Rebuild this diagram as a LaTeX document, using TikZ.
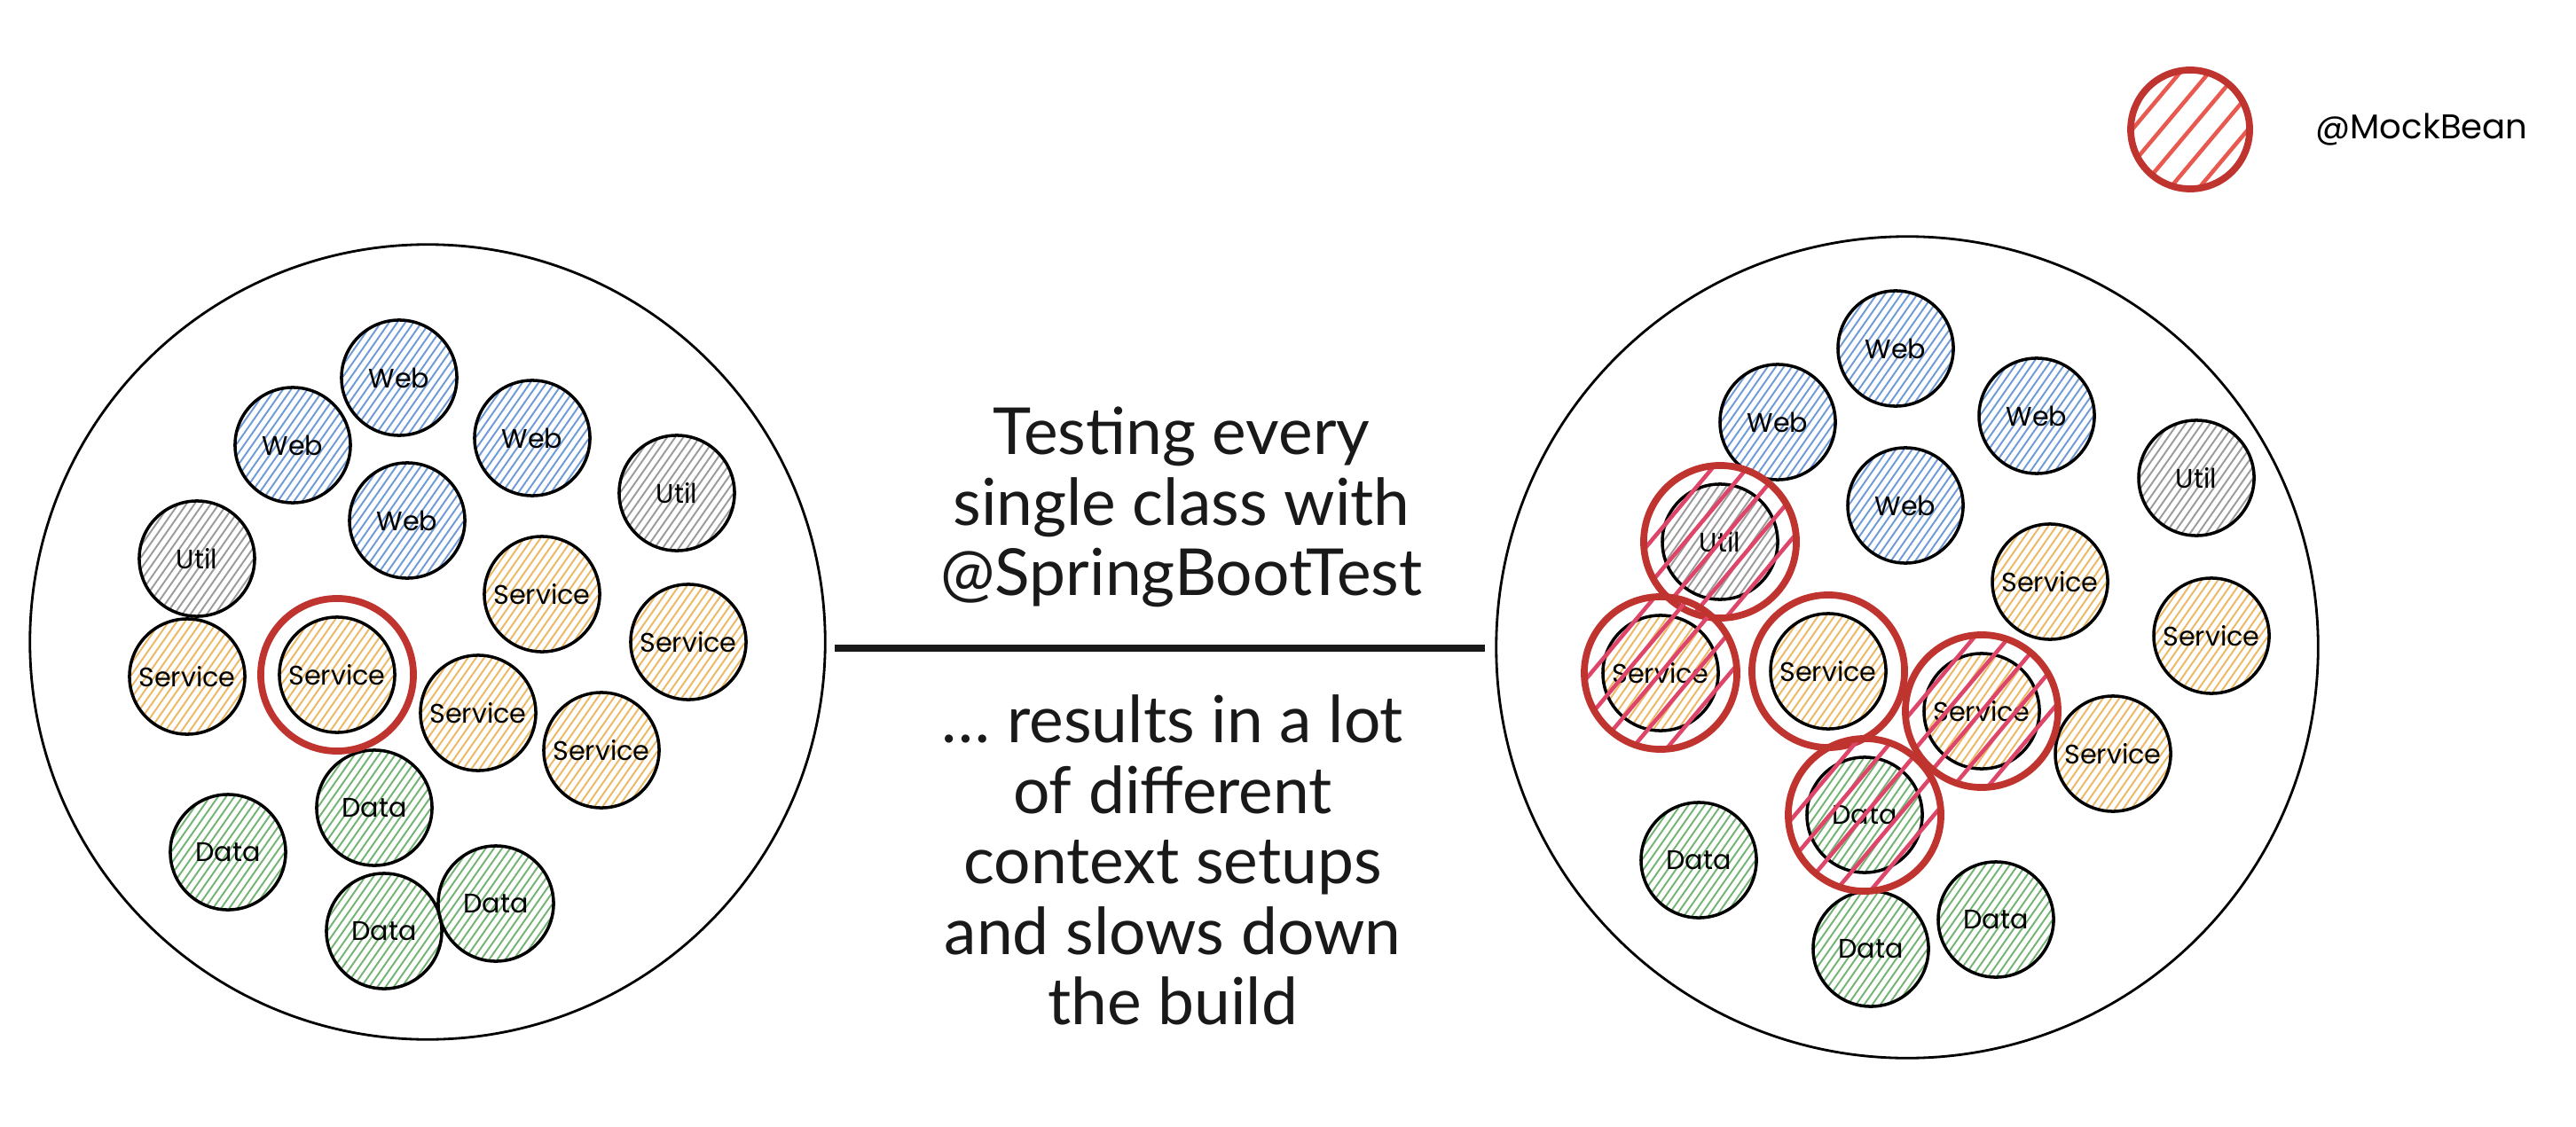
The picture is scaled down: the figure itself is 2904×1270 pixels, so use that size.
\documentclass[tikz,border=0pt]{standalone}
\usepackage{fontspec}
\setmainfont{Lato}
\newfontfamily\handfont{Poppins}
\usetikzlibrary{calc}
\definecolor{webc}{RGB}{110,155,215}
\definecolor{utilc}{RGB}{155,155,155}
\definecolor{svcc}{RGB}{236,184,100}
\definecolor{datac}{RGB}{115,180,115}
\definecolor{mockred}{RGB}{192,52,48}
\definecolor{mockhatch}{RGB}{222,70,105}
\definecolor{legendhatch}{RGB}{232,90,80}
\tikzset{
  hatch/.style={path picture={
    \foreach \i in {-13,...,13}
      \draw[#1, line width=0.55pt]
        ($(path picture bounding box.center)+(-35:{\i*0.075cm})+(55:-1.6cm)$) --
        ($(path picture bounding box.center)+(-35:{\i*0.075cm})+(55:1.6cm)$);
  }},
  redhatch/.style 2 args={path picture={
    \foreach \i in {-5,...,5}
      \draw[#1, line width=1.3pt]
        ($(path picture bounding box.center)+(-40:{\i*#2})+(50:-1.6cm)$) --
        ($(path picture bounding box.center)+(-40:{\i*#2})+(50:1.6cm)$);
  }},
  bean/.style={circle, draw=black, line width=1pt, minimum size=1.3cm, inner sep=0pt,
    font=\handfont\fontsize{8.6}{10}\selectfont, hatch=#1},
  web/.style={bean=webc},
  util/.style={bean=utilc},
  svc/.style={bean=svcc},
  data/.style={bean=datac},
  ring/.style={circle, draw=mockred, line width=2.2pt, minimum size=1.72cm, inner sep=0pt},
  mocked/.style={ring, redhatch={mockhatch}{0.3cm}},
  context/.style={circle, draw=black, line width=0.8pt, inner sep=0pt},
  bigtext/.style={align=center, font=\fontsize{20.8}{22.6}\selectfont, text=black!90},
}
\begin{document}
\begin{tikzpicture}[x=0.01cm, y=-0.01cm]
\useasboundingbox (0,0) rectangle (2904,1270);

% ---------- left context ----------
\node (lctx) [context, minimum size=8.96cm] at (482,724) {};
\node (lweb1) [web] at (450,426) {Web};
\node (lweb2) [web] at (330,502) {Web};
\node (lweb3) [web] at (600,494) {Web};
\node (lweb4) [web] at (459,587) {Web};
\node (lutil1) [util] at (222,630) {Util};
\node (lutil2) [util] at (763,556) {Util};
\node (lsvc1) [svc] at (211,763) {Service};
\node (lsvc2) [svc] at (380,761) {Service};
\node (lsvc3) [svc] at (611,670) {Service};
\node (lsvc4) [svc] at (776,724) {Service};
\node (lsvc5) [svc] at (539,804) {Service};
\node (lsvc6) [svc] at (678,846) {Service};
\node (ldata1) [data] at (422,911) {Data};
\node (ldata2) [data] at (257,961) {Data};
\node (ldata3) [data] at (433,1050) {Data};
\node (ldata4) [data] at (559,1019) {Data};
\node (lring) [ring] at (lsvc2) {};

% ---------- middle text ----------
\node (title) [bigtext] at (1332,572) {Testing every\\single class with\\@SpringBootTest};
\coordinate (sepL) at (941,731);
\coordinate (sepR) at (1674,731);
\draw[line width=2pt, black!90] (sepL) -- (sepR);
\node (result) [bigtext] at (1322,970) {\dots{} results in a lot\\of different\\context setups\\and slows down\\the build};

% ---------- right context ----------
\node (rctx) [context, minimum size=9.26cm] at (2150,730) {};
\node (rweb1) [web] at (2137,393) {Web};
\node (rweb2) [web] at (2004,476) {Web};
\node (rweb3) [web] at (2296,469) {Web};
\node (rweb4) [web] at (2148,570) {Web};
\node (rutil1) [util] at (2476,539) {Util};
\node (rutil2) [util] at (1939,611) {Util};
\node (rsvc1) [svc] at (2311,656) {Service};
\node (rsvc2) [svc] at (2493,717) {Service};
\node (rsvc3) [svc] at (1872,759) {Service};
\node (rsvc4) [svc] at (2061,757) {Service};
\node (rsvc5) [svc] at (2234,802) {Service};
\node (rsvc6) [svc] at (2382,850) {Service};
\node (rdata1) [data] at (2102,919) {Data};
\node (rdata2) [data] at (1915,970) {Data};
\node (rdata3) [data] at (2109,1070) {Data};
\node (rdata4) [data] at (2250,1037) {Data};
\node (rm1) [mocked] at (rutil2) {};
\node (rm2) [mocked] at (rsvc3) {};
\node (rm3) [ring] at (rsvc4) {};
\node (rm4) [mocked] at (rsvc5) {};
\node (rm5) [mocked] at (rdata1) {};

% ---------- legend ----------
\node (legend) [circle, draw=mockred, line width=2.2pt, minimum size=1.34cm, inner sep=0pt, redhatch={legendhatch}{0.25cm}] at (2469,146) {};
\node (legendtext) [anchor=west, font=\handfont\fontsize{11}{13}\selectfont] at (2598,146) {@MockBean};
\end{tikzpicture}
\end{document}
